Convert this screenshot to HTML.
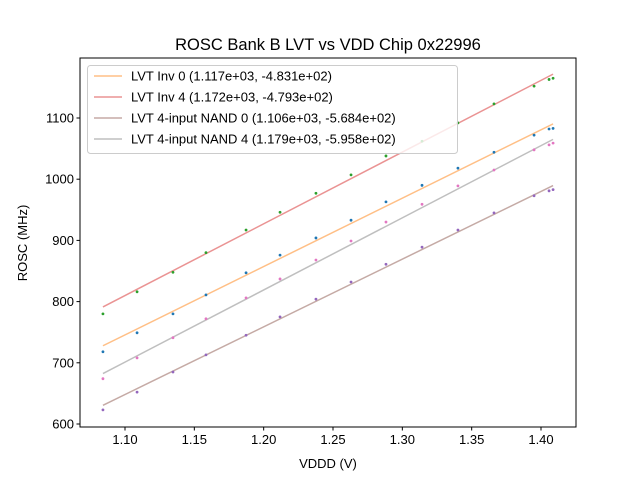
<!DOCTYPE html>
<html><head><meta charset="utf-8"><style>
body{margin:0;background:#fff}
text{font-family:"Liberation Sans","DejaVu Sans",sans-serif}
</style></head><body>
<svg id="chart" width="640" height="480" viewBox="0 0 640 480">
<rect width="640" height="480" fill="#fff"/>
<text x="328" y="50" text-anchor="middle" font-size="16.5">ROSC Bank B LVT vs VDD Chip 0x22996</text>
<g id="plot"></g>
</svg>
<script>
const xData=[1.0841,1.1087,1.1346,1.1584,1.1873,1.2118,1.2377,1.263,1.2882,1.3142,1.3401,1.3661,1.395,1.4058,1.4087];
const inv4Vals=[780,816,848,880,917,946,977,1007,1038,1062,1092,1123,1152,1163,1165];
const inv0Vals=[718,749,780,811,847,876,904,933,963,990,1018,1044,1072,1082,1083];
const nand4Vals=[674,708,741,772,806,837,868,899,930,959,989,1015,1048,1056,1059];
const nand0Vals=[623,652,685,713,745,775,804,832,861,889,917,945,973,981,983];
const fitSlopes=[1117,1172,1106,1179];
const fitIntercepts=[-483.1,-479.3,-568.4,-595.8];
const fitLabels=["LVT Inv 0 (1.117e+03, -4.831e+02)","LVT Inv 4 (1.172e+03, -4.793e+02)","LVT 4-input NAND 0 (1.106e+03, -5.684e+02)","LVT 4-input NAND 4 (1.179e+03, -5.958e+02)"];
const xTicks=[1.10,1.15,1.20,1.25,1.30,1.35,1.40];
const yTicks=[600,700,800,900,1000,1100];
const fitRange=[1.0841,1.4087];

const L=80,R=576,T=58,B=427;
const sx=v=>125+(v-1.10)*1386.7;
const sy=v=>118+(1100-v)*0.612;
const NS="http://www.w3.org/2000/svg";
const g=document.getElementById('plot');
function mk(t,a,p){const e=document.createElementNS(NS,t);for(const k in a)e.setAttribute(k,a[k]);(p||g).appendChild(e);return e;}

const lineColors=["#ff7f0e","#d62728","#8c564b","#7f7f7f"];
fitSlopes.forEach((m,i)=>{
  const l=mk('line',{x1:sx(fitRange[0]),y1:sy(m*fitRange[0]+fitIntercepts[i]),x2:sx(fitRange[1]),y2:sy(m*fitRange[1]+fitIntercepts[i]),stroke:lineColors[i],'stroke-opacity':0.5,'stroke-width':1.5});
  
  
});
const series=[[inv0Vals,"#1f77b4","inv0"],[inv4Vals,"#2ca02c","inv4"],[nand0Vals,"#9467bd","nand0"],[nand4Vals,"#e377c2","nand4"]];
series.forEach(([vals,c,n])=>{
  vals.forEach((v,j)=>{
    const p=mk('circle',{cx:sx(xData[j]),cy:sy(v),r:1.4,fill:c});
    
    
  });
});
const frame=mk('rect',{x:L,y:T,width:R-L,height:B-T,fill:'none',stroke:'#000','stroke-width':1});


xTicks.forEach(v=>{
  mk('line',{x1:sx(v),x2:sx(v),y1:B,y2:B+3.5,stroke:'#000'});
  const t=mk('text',{x:sx(v),y:B+17,'text-anchor':'middle','font-size':13});
  t.textContent=v.toFixed(2);
  
  
});
yTicks.forEach(v=>{
  mk('line',{x1:L,x2:L-3.5,y1:sy(v),y2:sy(v),stroke:'#000'});
  const t=mk('text',{x:L-6,y:sy(v)+4.5,'text-anchor':'end','font-size':13});
  t.textContent=v;
  
  
});
const xt=mk('text',{x:328,y:468,'text-anchor':'middle','font-size':13});
xt.textContent="VDDD (V)";


const yt=mk('text',{x:27,y:243,'text-anchor':'middle','font-size':13,transform:'rotate(-90 27 243)'});
yt.textContent="ROSC (MHz)";


const lg=mk('g',{});


mk('rect',{x:87.5,y:65.5,width:370,height:88,rx:3,fill:'#fff','fill-opacity':0.8,stroke:'#ccc'},lg);
fitLabels.forEach((s,i)=>{
  const y=76+i*21;
  mk('line',{x1:94,x2:122,y1:y,y2:y,stroke:lineColors[i],'stroke-opacity':0.5,'stroke-width':1.5},lg);
  const t=mk('text',{x:131,y:y+4.5,'font-size':13},lg);
  t.textContent=s;
  
  
});
</script>
</body></html>
